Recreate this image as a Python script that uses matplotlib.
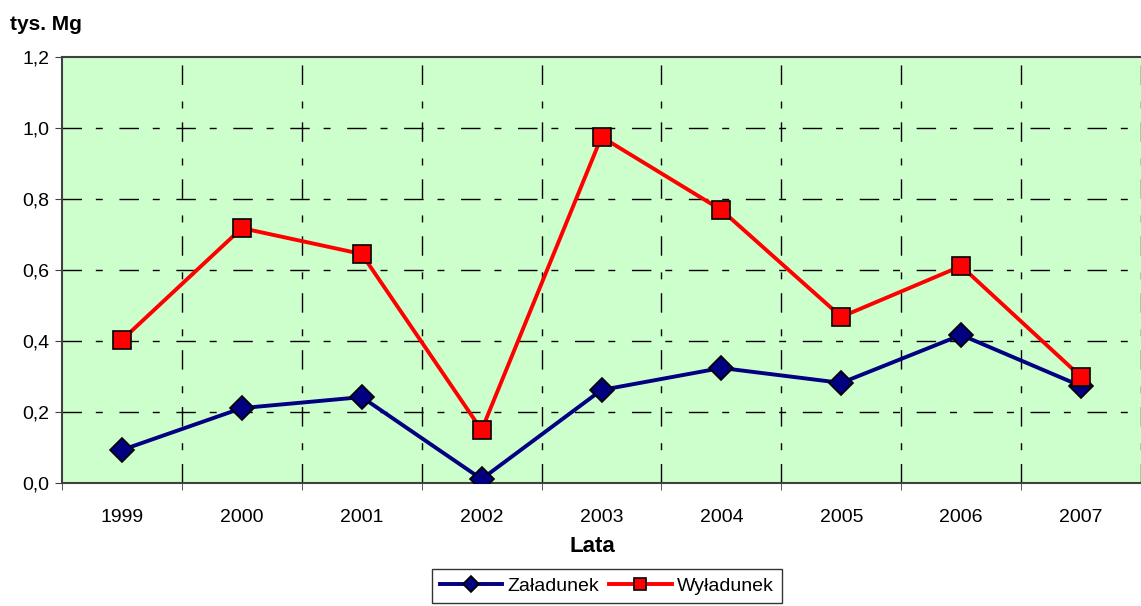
import matplotlib.pyplot as plt

# Zaladunek / wyladunek w latach 1999-2007 (tys. Mg)
years = ['1999', '2000', '2001', '2002', '2003', '2004', '2005', '2006', '2007']
zaladunek = [0.093, 0.211, 0.242, 0.011, 0.262, 0.324, 0.282, 0.417, 0.273]
wyladunek = [0.403, 0.718, 0.645, 0.149, 0.975, 0.769, 0.468, 0.611, 0.299]


def main():
    plt.rcParams['font.family'] = ['Liberation Sans', 'DejaVu Sans']
    fig = plt.figure(figsize=(11.41, 6.06), dpi=100)
    ax = fig.add_axes([62 / 1141, 1 - 483 / 606, 1079 / 1141, 426 / 606])
    ax.set_facecolor('#CCFFCC')

    x = list(range(len(years)))
    ax.plot(x, zaladunek, color='#000080', lw=2.8, marker='D', ms=12,
            mfc='#000080', mec='black', mew=1.2, label='Załadunek', zorder=3)
    ax.plot(x, wyladunek, color='#FF0000', lw=2.8, marker='s', ms=12.5,
            mfc='#FF0000', mec='black', mew=1.2, label='Wyładunek', zorder=4)

    ax.set_xlim(-0.5, -0.5 + 1079 / 121.0)
    ax.set_ylim(0, 1.2)
    ax.set_yticks([0, 0.2, 0.4, 0.6, 0.8, 1.0, 1.2])
    ax.set_yticklabels(['0,0', '0,2', '0,4', '0,6', '0,8', '1,0', '1,2'], fontsize=14)
    ax.set_xticks(x)
    ax.set_xticklabels(years, fontsize=14)
    ax.set_xticks([i + 0.5 for i in range(-1, 9)], minor=True)
    ax.tick_params(axis='x', which='major', length=0, pad=19)
    ax.tick_params(axis='x', which='minor', length=5, color='#404040', direction='out')
    ax.tick_params(axis='y', length=5, color='#404040', pad=4)

    grid_style = dict(color='black', lw=1.0, dashes=(14, 10, 5, 12))
    for yv in [0.2, 0.4, 0.6, 0.8, 1.0]:
        ax.axhline(yv, zorder=1, **grid_style)
    for xv in [i + 0.5 for i in range(0, 9)]:
        ax.axvline(xv, zorder=1, **grid_style)

    for side in ['left', 'bottom', 'top']:
        ax.spines[side].set_color('#404040')
        ax.spines[side].set_linewidth(1.5)
    ax.spines['right'].set_visible(False)

    fig.text(10 / 1141, 1 - 25 / 606, 'tys. Mg', fontsize=15, fontweight='bold', va='center')
    fig.text(592 / 1141, 1 - 547 / 606, 'Lata', fontsize=16, fontweight='bold',
             ha='center', va='center')

    leg = fig.legend(loc='center', bbox_to_anchor=(607 / 1141, 1 - 586 / 606), ncol=2,
                     fontsize=14, frameon=True, fancybox=False, edgecolor='black',
                     handlelength=3.2, handletextpad=0.3, columnspacing=0.5,
                     borderpad=0.4, markerscale=0.7)
    leg.get_frame().set_linewidth(1.0)

    fig.savefig('out.png', dpi=100)


if __name__ == "__main__":
    main()
